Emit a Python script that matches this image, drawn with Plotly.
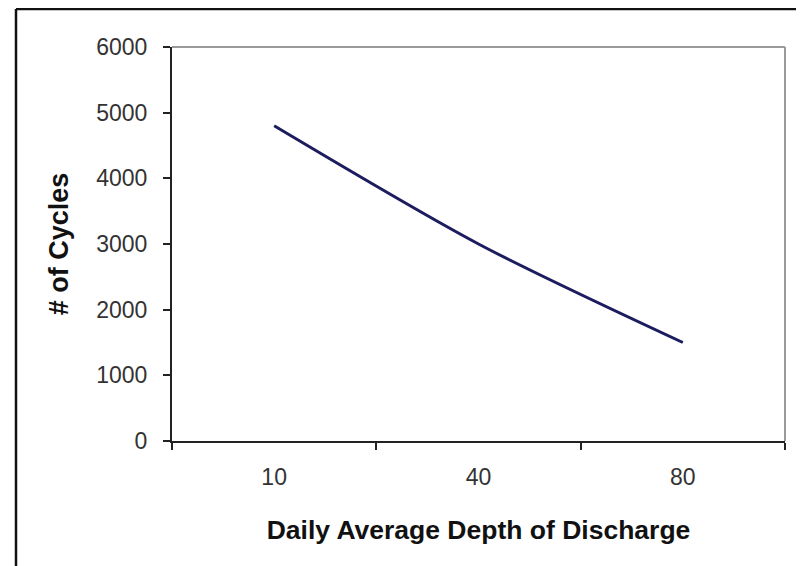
import plotly.graph_objects as go

categories = ["10", "40", "80"]
cycles = [4800, 3000, 1500]
y_ticks = [0, 1000, 2000, 3000, 4000, 5000, 6000]
x_title = "Daily Average Depth of Discharge"
y_title = "# of Cycles"

W, H = 804, 566
OFF = 8  # page body margin offset
L, R, T, B = 172 - OFF, 785 - OFF, 47 - OFF, 441 - OFF

fig = go.Figure()
fig.add_trace(go.Scatter(
    x=categories, y=cycles, mode="lines",
    line=dict(color="#1c1c5e", width=3, shape="spline", smoothing=0.8),
    showlegend=False, hoverinfo="skip",
))

def px_x(px):
    return (px - OFF - L) / (R - L)

def px_y(py):
    return (B - (py - OFF)) / (B - T)

# plot area top/right borders (gray)
fig.add_shape(type="line", xref="paper", yref="paper", x0=0, x1=1, y0=1, y1=1,
              line=dict(color="#9a9a9a", width=2))
fig.add_shape(type="line", xref="paper", yref="paper", x0=1, x1=1, y0=0, y1=1,
              line=dict(color="#9a9a9a", width=2))
# outer chart frame
fig.add_shape(type="line", xref="paper", yref="paper", x0=px_x(16), x1=px_x(799), y0=px_y(9), y1=px_y(9),
              line=dict(color="#111111", width=2.5))
fig.add_shape(type="line", xref="paper", yref="paper", x0=px_x(16), x1=px_x(16), y0=px_y(9), y1=px_y(590),
              line=dict(color="#111111", width=2.5))
fig.add_shape(type="line", xref="paper", yref="paper", x0=px_x(799), x1=px_x(799), y0=px_y(9), y1=px_y(590),
              line=dict(color="#8a8a8a", width=3))

fig.update_layout(
    width=W, height=H,
    margin=dict(l=L, r=W - R, t=T, b=H - B, pad=0),
    paper_bgcolor="white", plot_bgcolor="white",
    font=dict(family="Liberation Sans, Arial, sans-serif", color="#222222"),
    xaxis=dict(
        type="category", categoryorder="array", categoryarray=categories,
        range=[-0.5, 2.5], tickson="boundaries", ticks="outside", ticklen=7,
        tickcolor="#222222", tickwidth=1.5,
        showline=True, linecolor="#222222", linewidth=2, showgrid=False, zeroline=False,
        tickfont=dict(size=23, color="#333333"), ticklabelstandoff=14,
        title=dict(text="<b>" + x_title + "</b>", font=dict(size=26.5, color="#111111"), standoff=32),
    ),
    yaxis=dict(
        range=[0, 6000], tickvals=y_ticks, ticktext=[str(v) for v in y_ticks],
        ticks="outside", ticklen=7, tickcolor="#222222", tickwidth=1.5,
        showline=True, linecolor="#222222", linewidth=2, showgrid=False, zeroline=False,
        tickfont=dict(size=23, color="#333333"), ticklabelstandoff=11,
        title=dict(text="<b>" + y_title + "</b>", font=dict(size=27, color="#111111"), standoff=20),
    ),
)

fig.write_html("out.html")
